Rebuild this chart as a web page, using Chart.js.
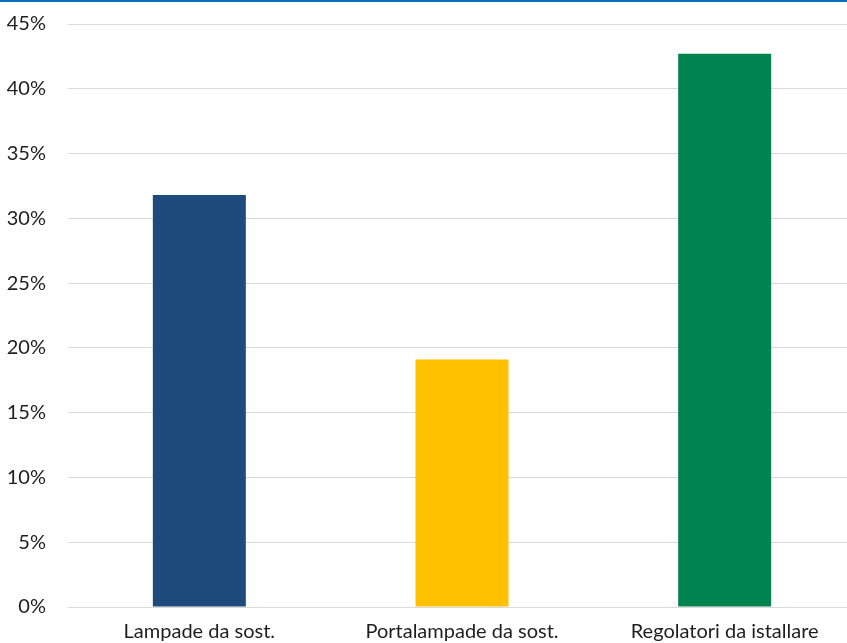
<!DOCTYPE html>
<html>
<head>
<meta charset="utf-8">
<script src="https://cdn.jsdelivr.net/npm/chart.js@4"></script>
<style>
    html, body { margin: 0; padding: 0; background: #fff; overflow: hidden; }
    #wrap {
        border-top: 2px solid #0070c0;
        width: 847px;
        height: 641px;
        position: relative;
        overflow: hidden;
    }
    #box {
        position: absolute;
        left: 0;
        top: -12px;
        width: 860px;
        height: 653px;
    }
</style>
</head>
<body>
<div id="wrap"><div id="box"><canvas id="myChart"></canvas></div></div>
<script>
    // categorie e percentuali
    const categorie = ['Lampade da sost.', 'Portalampade da sost.', 'Regolatori da istallare'];
    const percentuali = [31.8, 19.1, 42.7];
    const colori = ['#1f4a7c', '#ffc000', '#00834f'];
    const tickY = [0, 5, 10, 15, 20, 25, 30, 35, 40, 45];

    const ctx = document.getElementById('myChart').getContext('2d');

    Chart.defaults.font.family = 'Lato, "Open Sans", sans-serif';
    Chart.defaults.color = '#1e1e1e';

    const myChart = new Chart(ctx, {
        type: 'bar',
        data: {
            labels: categorie,
            datasets: [{
                data: percentuali,
                backgroundColor: colori,
                borderWidth: 0,
                barPercentage: 0.354,
                categoryPercentage: 1
            }]
        },
        options: {
            responsive: true,
            maintainAspectRatio: false,
            animation: false,
            layout: { padding: { top: 0, right: 4, bottom: -14, left: 0 } },
            plugins: {
                legend: { display: false },
                tooltip: { enabled: false }
            },
            scales: {
                x: {
                    grid: { display: false, drawTicks: false },
                    border: { display: false },
                    ticks: {
                        padding: 13,
                        font: { size: 20 },
                        maxRotation: 0
                    }
                },
                y: {
                    min: tickY[0],
                    max: tickY[tickY.length - 1],
                    afterBuildTicks: function(scale) {
                        scale.ticks = tickY.map(v => ({ value: v }));
                    },
                    afterFit: function(scale) {
                        scale.width = 68;
                    },
                    grid: { color: '#d9d9d9', lineWidth: 1, drawTicks: false },
                    border: { display: false },
                    ticks: {
                        padding: 22,
                        font: { size: 20 },
                        callback: v => v + '%'
                    }
                }
            }
        }
    });
</script>
</body>
</html>
